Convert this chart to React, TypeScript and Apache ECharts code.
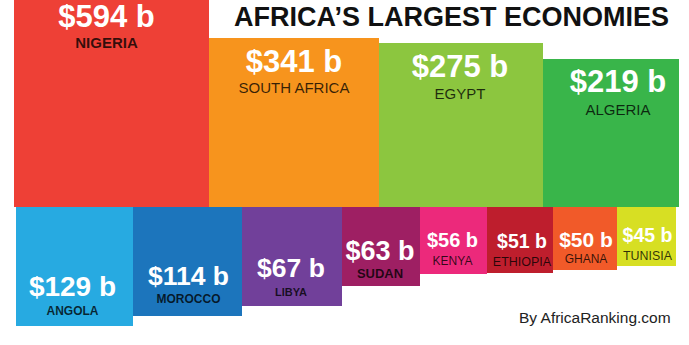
import React, { useEffect, useRef } from "react";
import * as echarts from "echarts";

// ---- data ----
const countries = [
  "NIGERIA", "SOUTH AFRICA", "EGYPT", "ALGERIA",
  "ANGOLA", "MOROCCO", "LIBYA", "SUDAN", "KENYA", "ETHIOPIA", "GHANA", "TUNISIA",
];
const gdpBillions = [594, 341, 275, 219, 129, 114, 67, 63, 56, 51, 50, 45];
// which row each block sits in (0 = above the baseline, 1 = below it)
const rowOf = [0, 0, 0, 0, 1, 1, 1, 1, 1, 1, 1, 1];
// block sizes in chart units (as drawn in the infographic)
const blockWidths = [195, 170, 164, 136, 117, 109, 100, 78, 67, 66, 64, 59];
const blockHeights = [214, 169, 164, 148, 119, 109, 99, 79, 67, 66, 63, 59];
// where each row starts along the x axis
const rowStart = [14, 16];

// ---- styles ----
const colors = [
  "#EE4036", "#F7941D", "#8CC63F", "#39B54A",
  "#27AAE1", "#1C75BC", "#71409A", "#9E1F63", "#EC297B", "#BE1E2D", "#F15A29", "#D7DF23",
];
const labelStyles = [
  { valueSize: 31, nameSize: 15, nameWeight: "bold", dx: -5, valueOff: 23, nameOff: 49 },
  { valueSize: 31, nameSize: 15, nameWeight: "normal", dx: 0, valueOff: 23, nameOff: 49 },
  { valueSize: 31, nameSize: 15, nameWeight: "normal", dx: -1, valueOff: 23, nameOff: 50 },
  { valueSize: 31, nameSize: 15, nameWeight: "normal", dx: 7, valueOff: 22, nameOff: 50 },
  { valueSize: 28, nameSize: 12, nameWeight: "bold", dx: -2, valueOff: 40, nameOff: 15 },
  { valueSize: 26.5, nameSize: 12, nameWeight: "bold", dx: 1, valueOff: 40, nameOff: 17 },
  { valueSize: 26.5, nameSize: 11, nameWeight: "bold", dx: -1, valueOff: 38, nameOff: 14.5 },
  { valueSize: 27, nameSize: 13, nameWeight: "bold", dx: -1, valueOff: 35, nameOff: 13 },
  { valueSize: 20, nameSize: 12, nameWeight: "normal", dx: -1, valueOff: 34, nameOff: 13 },
  { valueSize: 19.5, nameSize: 12.5, nameWeight: "normal", dx: 2, valueOff: 32, nameOff: 11 },
  { valueSize: 21, nameSize: 12, nameWeight: "normal", dx: 1, valueOff: 31, nameOff: 11 },
  { valueSize: 19.5, nameSize: 12.4, nameWeight: "normal", dx: 1, valueOff: 31, nameOff: 10.5 },
];
const FONT = "'Liberation Sans', Arial, Helvetica, sans-serif";

function buildData() {
  const cursor = [rowStart[0], rowStart[1]];
  return countries.map((name, i) => {
    const r = rowOf[i];
    const x0 = cursor[r];
    const x1 = x0 + blockWidths[i];
    cursor[r] = x1;
    const y0 = r === 0 ? 0 : -blockHeights[i];
    const y1 = r === 0 ? blockHeights[i] : 0;
    return { name, value: [x0, x1, y0, y1, gdpBillions[i], r] };
  });
}

export default function App() {
  const ref = useRef<HTMLDivElement>(null);
  useEffect(() => {
    if (!ref.current) return;
    const chart = echarts.init(ref.current, undefined, { renderer: "svg" });
    const data = buildData();
    chart.setOption({
      animation: false,
      backgroundColor: "#ffffff",
      grid: { left: 0, right: 0, top: 0, bottom: 0 },
      xAxis: { type: "value", min: 0, max: 689, show: false },
      yAxis: { type: "value", min: -138, max: 207, show: false },
      title: {
        text: "AFRICA\u2019S LARGEST ECONOMIES",
        left: 234,
        top: 3,
        padding: 0,
        textStyle: { fontFamily: FONT, fontWeight: "bold", fontSize: 27, color: "#111111" },
      },
      graphic: [
        {
          type: "text",
          left: 519,
          top: 309,
          style: {
            text: "By AfricaRanking.com",
            fontFamily: FONT,
            fontSize: 15.5,
            fill: "#222222",
          },
        },
      ],
      series: [
        {
          type: "custom",
          clip: false,
          data,
          renderItem: (params: any, api: any) => {
            const i = params.dataIndex;
            const x0 = api.value(0), x1 = api.value(1), y0 = api.value(2), y1 = api.value(3);
            const v = api.value(4), r = api.value(5);
            const tl = api.coord([x0, y1]);
            const br = api.coord([x1, y0]);
            const st = labelStyles[i];
            const cx = (tl[0] + br[0]) / 2 + st.dx;
            const valueY = r === 0 ? tl[1] + st.valueOff : br[1] - st.valueOff;
            const nameY = r === 0 ? tl[1] + st.nameOff : br[1] - st.nameOff;
            return {
              type: "group",
              children: [
                {
                  type: "rect",
                  shape: { x: tl[0], y: tl[1], width: br[0] - tl[0], height: br[1] - tl[1] },
                  style: { fill: colors[i] },
                },
                {
                  type: "text",
                  style: {
                    text: "$" + v + " b",
                    x: cx,
                    y: valueY,
                    align: "center",
                    verticalAlign: "middle",
                    fontFamily: FONT,
                    fontWeight: "bold",
                    fontSize: st.valueSize,
                    fill: "#ffffff",
                  },
                },
                {
                  type: "text",
                  style: {
                    text: countries[i],
                    x: cx,
                    y: nameY,
                    align: "center",
                    verticalAlign: "middle",
                    fontFamily: FONT,
                    fontWeight: st.nameWeight,
                    fontSize: st.nameSize,
                    fill: "rgba(0,0,0,0.78)",
                  },
                },
              ],
            };
          },
        },
      ],
    });
    return () => chart.dispose();
  }, []);
  return (
    <div
      ref={ref}
      style={{ position: "fixed", left: 0, top: 0, width: 689, height: 345, background: "#fff" }}
    />
  );
}
